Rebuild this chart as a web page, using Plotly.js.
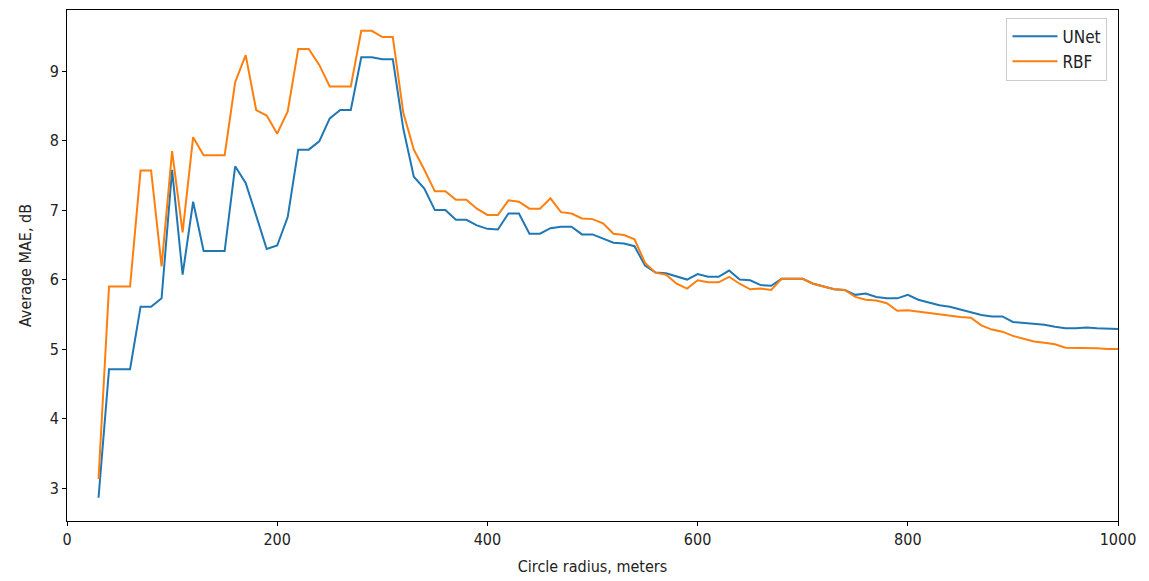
<!DOCTYPE html>
<html>
<head>
<meta charset="utf-8">
<script src="https://cdn.plot.ly/plotly-3.0.1.min.js"></script>
<style>
html,body{margin:0;padding:0;background:#fff;}
#chart{width:1149px;height:581px;}
</style>
</head>
<body>
<div id="chart"></div>
<script>
const radius = [30,40,50,60,70,80,90,100,110,120,130,140,150,160,170,180,190,200,210,220,230,240,250,260,270,280,290,300,310,320,330,340,350,360,370,380,390,400,410,420,430,440,450,460,470,480,490,500,510,520,530,540,550,560,570,580,590,600,610,620,630,640,650,660,670,680,690,700,710,720,730,740,750,760,770,780,790,800,810,820,830,840,850,860,870,880,890,900,910,920,930,940,950,960,970,980,990,1000];

const unet = [2.86,4.71,4.71,4.71,5.61,5.61,5.73,7.58,6.07,7.12,6.41,6.41,6.41,7.63,7.39,6.92,6.44,6.49,6.90,7.87,7.87,7.99,8.32,8.44,8.44,9.20,9.20,9.17,9.17,8.17,7.48,7.31,7.00,7.00,6.86,6.86,6.78,6.73,6.72,6.95,6.95,6.66,6.66,6.74,6.76,6.76,6.65,6.65,6.59,6.53,6.52,6.48,6.20,6.10,6.09,6.04,6.00,6.08,6.04,6.04,6.13,6.00,5.99,5.92,5.91,6.01,6.01,6.01,5.94,5.90,5.86,5.85,5.78,5.80,5.75,5.73,5.73,5.78,5.71,5.67,5.63,5.61,5.57,5.52,5.49,5.47,5.47,5.39,5.38,5.37,5.35,5.32,5.30,5.30,5.31,5.30,5.29,5.29];

const rbf = [3.13,5.90,5.90,5.90,7.57,7.57,6.19,7.85,6.68,8.05,7.79,7.79,7.79,8.84,9.23,8.44,8.36,8.10,8.42,9.32,9.32,9.09,8.78,8.78,8.78,9.58,9.58,9.49,9.49,8.40,7.87,7.58,7.27,7.27,7.15,7.15,7.02,6.93,6.93,7.14,7.12,7.02,7.02,7.17,6.97,6.95,6.88,6.87,6.81,6.66,6.64,6.58,6.24,6.10,6.07,5.94,5.87,5.99,5.96,5.96,6.04,5.94,5.86,5.87,5.85,6.01,6.01,6.01,5.94,5.90,5.86,5.85,5.75,5.71,5.70,5.66,5.55,5.56,5.54,5.51,5.49,5.47,5.46,5.45,5.34,5.28,5.25,5.19,5.15,5.11,5.09,5.07,5.02,5.02,5.01,5.01,5.00,5.00];

const seriesNames = ["UNet", "RBF"];
const xTicks = [0,200,400,600,800,1000];
const yTicks = [3,4,5,6,7,8,9];

const fontFam = "'DejaVu Sans Condensed', 'DejaVu Sans', sans-serif";

const traces = [
  {x: radius, y: unet, name: seriesNames[0], type: "scatter", mode: "lines",
   line: {color: "#1f77b4", width: 2}},
  {x: radius, y: rbf, name: seriesNames[1], type: "scatter", mode: "lines",
   line: {color: "#ff7f0e", width: 2}}
];

const axisCommon = {
  showgrid: false, zeroline: false,
  showline: true, linecolor: "#000", linewidth: 1, mirror: true,
  ticks: "outside", ticklen: 4, tickwidth: 1, tickcolor: "#000",
  tickfont: {family: fontFam, size: 16, color: "#222"}
};

const layout = {
  width: 1149, height: 581,
  margin: {l: 67, r: 31, t: 10, b: 60},
  paper_bgcolor: "#fff", plot_bgcolor: "#fff",
  showlegend: true,
  legend: {x: 0.99, xanchor: "right", y: 0.985, yanchor: "top",
           bgcolor: "rgba(255,255,255,0.9)", bordercolor: "#ccc", borderwidth: 1,
           itemwidth: 45, tracegroupgap: 4,
           font: {family: fontFam, size: 17, color: "#222"}},
  xaxis: Object.assign({}, axisCommon, {
    range: [0, 1000], tickmode: "array", tickvals: xTicks,
    title: {text: "Circle radius, meters", font: {family: fontFam, size: 16, color: "#222"}, standoff: 12}
  }),
  yaxis: Object.assign({}, axisCommon, {
    range: [2.525, 9.88], tickmode: "array", tickvals: yTicks,
    title: {text: "Average MAE, dB", font: {family: fontFam, size: 16, color: "#222"}, standoff: 14}
  })
};

Plotly.newPlot("chart", traces, layout, {displayModeBar: false, staticPlot: true});
</script>
</body>
</html>
